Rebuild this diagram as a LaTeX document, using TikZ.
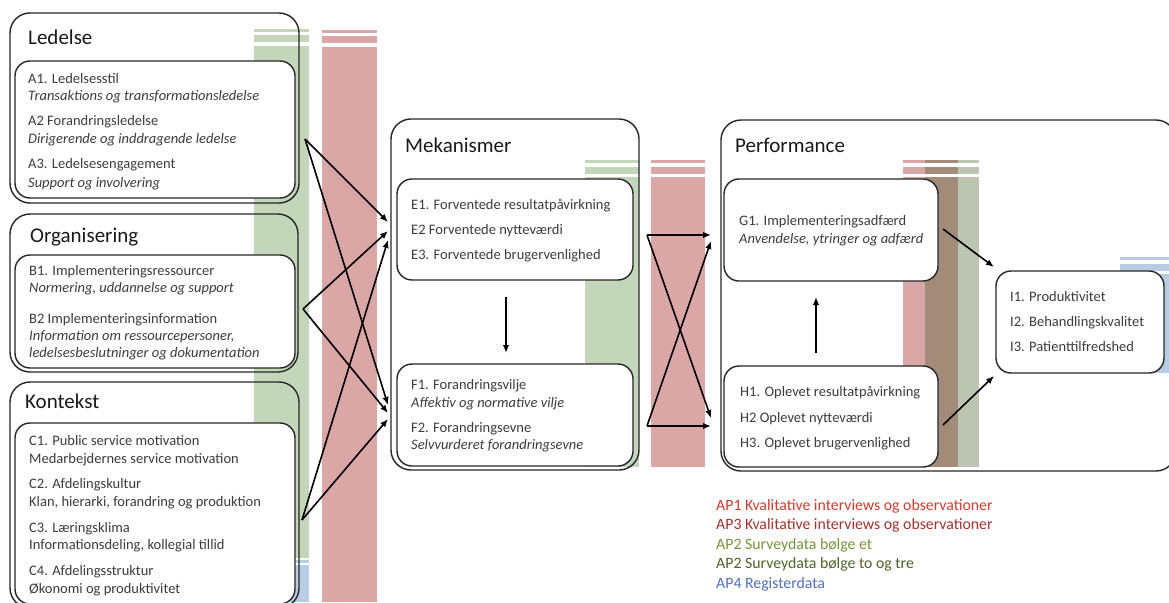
\documentclass[tikz,border=0pt]{standalone}
\usepackage{fontspec}
\setmainfont{Carlito}
\usetikzlibrary{arrows.meta}
\definecolor{bandgreen}{RGB}{196,214,186}
\definecolor{bandred}{RGB}{218,166,166}
\definecolor{bandblue}{RGB}{184,205,228}
\definecolor{bandbrown}{RGB}{163,139,122}
\definecolor{bandgrey}{RGB}{187,197,178}
\definecolor{txt}{RGB}{60,60,60}
\definecolor{boxline}{RGB}{38,38,38}
\definecolor{apone}{RGB}{210,60,45}
\definecolor{apthree}{RGB}{165,50,45}
\definecolor{aptwoa}{RGB}{119,147,60}
\definecolor{aptwob}{RGB}{79,98,40}
\definecolor{apfour}{RGB}{79,113,185}
% band with two thin stripes on top: x1, x2, ytop, ybottom, colour
\newcommand{\drawmyband}[5]{%
  \fill[#5] (#1,#3) rectangle (#2,#3+3);
  \fill[#5] (#1,#3+6.5) rectangle (#2,#3+13.5);
  \fill[#5] (#1,#3+17) rectangle (#2,#4);
}
\tikzset{
  outerbox/.style={draw=boxline, line width=1.4pt, rounded corners=20pt, inner sep=0pt, outer sep=0pt, anchor=north west},
  innerbox/.style={draw=boxline, fill=white, line width=1.4pt, rounded corners=15pt, inner sep=0pt, outer sep=0pt, anchor=north west},
  title/.style={font=\fontsize{21}{25}\selectfont, text=black!90, anchor=base west, inner sep=0pt},
  item/.style={font=\fontsize{14.5}{17}\selectfont, text=txt, anchor=base west, inner sep=0pt},
  itemi/.style={item, font=\fontsize{14.5}{17}\selectfont\itshape},
  legend/.style={font=\fontsize{15.8}{19}\selectfont, anchor=base west, inner sep=0pt},
  arr/.style={line width=1.6pt, black, -{Latex[length=8pt,width=6.5pt]}}
}
\begin{document}
\begin{tikzpicture}[x=1pt,y=-1pt]
\clip (0,0) rectangle (1169,602);
\fill[white] (0,0) rectangle (1169,602);
% ---------- bands ----------
\drawmyband{254}{309}{29}{558}{bandgreen}
\fill[bandblue] (254,560) rectangle (309,562.5);
\fill[bandblue] (254,564.5) rectangle (309,602);
\drawmyband{322}{377}{30}{602}{bandred}
\drawmyband{585}{639}{160}{467}{bandgreen}
\drawmyband{651}{705}{160}{467}{bandred}
\drawmyband{903}{925}{160}{467}{bandred}
\drawmyband{925}{958}{160}{467}{bandbrown}
\drawmyband{958}{979}{160}{467}{bandgrey}
\drawmyband{1120}{1169}{257}{373}{bandblue}
% ---------- left column ----------
\node[outerbox, minimum width=289pt, minimum height=190pt] (ledelse) at (10,13) {};
\node[innerbox, minimum width=280pt, minimum height=137pt] (ledIn) at (15,61) {};
\node[title] (ledT) at (28,45) {Ledelse};
\node[item]  (a1)  at (28,83)  {A1. Ledelsesstil};
\node[itemi] (a1d) at (28,100) {Transaktions og transformationsledelse};
\node[item]  (a2)  at (28,125) {A2 Forandringsledelse};
\node[itemi] (a2d) at (28,143) {Dirigerende og inddragende ledelse};
\node[item]  (a3)  at (28,168) {A3. Ledelsesengagement};
\node[itemi] (a3d) at (28,187) {Support og involvering};

\node[outerbox, minimum width=288pt, minimum height=158pt] (organisering) at (10,214) {};
\node[innerbox, minimum width=280pt, minimum height=113pt] (orgIn) at (15,255) {};
\node[title] (orgT) at (30,242) {Organisering};
\node[item]  (b1)  at (29,275) {B1. Implementeringsressourcer};
\node[itemi] (b1d) at (29,292) {Normering, uddannelse og support};
\node[item]  (b2)  at (29,323) {B2 Implementeringsinformation};
\node[itemi] (b2d) at (29,340) {Information om ressourcepersoner,};
\node[itemi] (b2e) at (29,357) {ledelsesbeslutninger og dokumentation};

\node[outerbox, minimum width=289pt, minimum height=226pt] (kontekst) at (10,382) {};
\node[innerbox, minimum width=280pt, minimum height=181pt] (kontIn) at (15,423) {};
\node[title] (konT) at (25,408) {Kontekst};
\node[item] (c1)  at (29,445) {C1. Public service motivation};
\node[item] (c1d) at (29,463) {Medarbejdernes service motivation};
\node[item] (c2)  at (29,488) {C2. Afdelingskultur};
\node[item] (c2d) at (29,506) {Klan, hierarki, forandring og produktion};
\node[item] (c3)  at (29,532) {C3. Læringsklima};
\node[item] (c3d) at (29,549) {Informationsdeling, kollegial tillid};
\node[item] (c4)  at (29,575) {C4. Afdelingsstruktur};
\node[item] (c4d) at (29,593) {Økonomi og produktivitet};
% ---------- Mekanismer ----------
\node[outerbox, minimum width=248pt, minimum height=351pt] (mek) at (391,119) {};
\node[title] (mekT) at (405,152) {Mekanismer};
\node[innerbox, minimum width=236pt, minimum height=101pt] (eBox) at (397,179) {};
\node[item] (e1) at (411,209) {E1. Forventede resultatpåvirkning};
\node[item] (e2) at (411,234) {E2 Forventede nytteværdi};
\node[item] (e3) at (411,259) {E3. Forventede brugervenlighed};
\node[innerbox, minimum width=236pt, minimum height=102pt] (fBox) at (397,364) {};
\node[item]  (f1)  at (411,389) {F1. Forandringsvilje};
\node[itemi] (f1d) at (411,407) {Affektiv og normative vilje};
\node[item]  (f2)  at (411,432) {F2. Forandringsevne};
\node[itemi] (f2d) at (411,449) {Selvvurderet forandringsevne};
% ---------- Performance ----------
\node[outerbox, minimum width=455pt, minimum height=351pt] (perf) at (721,120) {};
\node[title] (perfT) at (735,152) {Performance};
\node[innerbox, minimum width=214pt, minimum height=102pt] (gBox) at (724,179) {};
\node[item]  (g1)  at (739,225) {G1. Implementeringsadfærd};
\node[itemi] (g1d) at (739,243) {Anvendelse, ytringer og adfærd};
\node[innerbox, minimum width=214pt, minimum height=101pt] (hBox) at (724,366) {};
\node[item] (h1) at (740,396) {H1. Oplevet resultatpåvirkning};
\node[item] (h2) at (740,422) {H2 Oplevet nytteværdi};
\node[item] (h3) at (740,447) {H3. Oplevet brugervenlighed};
\node[innerbox, minimum width=168pt, minimum height=102pt] (iBox) at (996,271) {};
\node[item] (i1) at (1010,301) {I1. Produktivitet};
\node[item] (i2) at (1010,326) {I2. Behandlingskvalitet};
\node[item] (i3) at (1010,351) {I3. Patienttilfredshed};
% ---------- legend ----------
\node[legend, text=apone]   (lg1) at (716,510) {AP1 Kvalitative interviews og observationer};
\node[legend, text=apthree] (lg2) at (716,529) {AP3 Kvalitative interviews og observationer};
\node[legend, text=aptwoa]  (lg3) at (716,549) {AP2 Surveydata bølge et};
\node[legend, text=aptwob]  (lg4) at (716,568) {AP2 Surveydata bølge to og tre};
\node[legend, text=apfour]  (lg5) at (716,588) {AP4 Registerdata};
% ---------- connector end points ----------
\coordinate (sL) at (305,139);
\coordinate (sO) at (303,309);
\coordinate (sK) at (302,520);
\coordinate (tLE) at (388,222);
\coordinate (tOE) at (388,231);
\coordinate (tKE) at (388,240);
\coordinate (tLF) at (388,405);
\coordinate (tOF) at (388,413);
\coordinate (tKF) at (388,419);
\coordinate (mE) at (647,235);
\coordinate (mF) at (647,426);
\coordinate (tG1) at (711,235);
\coordinate (tG2) at (711,241);
\coordinate (tH1) at (711,418);
\coordinate (tH2) at (711,426);
\coordinate (eF1) at (506,297);
\coordinate (eF2) at (506,353);
\coordinate (hG1) at (816,353);
\coordinate (hG2) at (816,297);
\coordinate (gI1) at (943,229);
\coordinate (gI2) at (994,267);
\coordinate (hI1) at (943,425);
\coordinate (hI2) at (994,376);
% ---------- connectors ----------
\draw[arr] (sL) -- (tLE);
\draw[arr] (sL) -- (tLF);
\draw[arr] (sO) -- (tOE);
\draw[arr] (sO) -- (tOF);
\draw[arr] (sK) -- (tKE);
\draw[arr] (sK) -- (tKF);
\draw[arr] (mE) -- (tG1);
\draw[arr] (mE) -- (tH1);
\draw[arr] (mF) -- (tH2);
\draw[arr] (mF) -- (tG2);
\draw[arr] (eF1) -- (eF2);
\draw[arr] (hG1) -- (hG2);
\draw[arr] (gI1) -- (gI2);
\draw[arr] (hI1) -- (hI2);
\end{tikzpicture}
\end{document}
